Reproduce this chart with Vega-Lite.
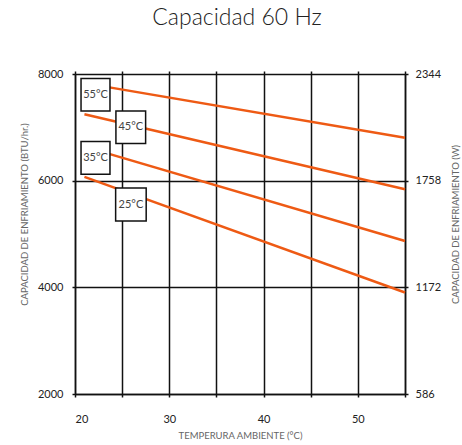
{
  "$schema": "https://vega.github.io/schema/vega-lite/v6.json",
  "width": 330,
  "height": 320,
  "autosize": "none",
  "padding": {"left": 75, "top": 74, "right": 57, "bottom": 51},
  "background": "white",
  "title": {"text": "Capacidad 60 Hz", "font": "Lato", "fontSize": 23, "fontWeight": 300, "color": "#222", "offset": 38, "anchor": "middle", "dx": -3},
  "config": {
    "view": {"stroke": null},
    "axis": {"domainColor": "#111", "domainWidth": 1.5, "gridColor": "#111", "gridWidth": 1.5, "gridOpacity": 1, "tickColor": "#111", "tickWidth": 1.5, "tickSize": 3, "labelFont": "Lato", "labelFontSize": 11, "labelColor": "#222", "titleFont": "Lato", "titleFontSize": 9.5, "titleFontWeight": "normal", "titleColor": "#666"}
  },
  "datasets": {
    "lines": [
      {"serie": "55°C", "temp": 21, "btu": 7829},
      {"serie": "55°C", "temp": 55, "btu": 6806},
      {"serie": "45°C", "temp": 21, "btu": 7244},
      {"serie": "45°C", "temp": 55, "btu": 5838},
      {"serie": "35°C", "temp": 21, "btu": 6638},
      {"serie": "35°C", "temp": 55, "btu": 4870},
      {"serie": "25°C", "temp": 21, "btu": 6070},
      {"serie": "25°C", "temp": 55, "btu": 3904}
    ],
    "boxes": [
      {"label": "55°C", "x1": 20.64, "x2": 23.71, "y1": 7304, "y2": 7916, "xc": 22.17, "yc": 7610},
      {"label": "45°C", "x1": 24.34, "x2": 27.49, "y1": 6699, "y2": 7304, "xc": 25.92, "yc": 7002},
      {"label": "35°C", "x1": 20.64, "x2": 23.71, "y1": 6119, "y2": 6736, "xc": 22.17, "yc": 6428},
      {"label": "25°C", "x1": 24.31, "x2": 27.55, "y1": 5244, "y2": 5862, "xc": 25.93, "yc": 5553}
    ]
  },
  "resolve": {"axis": {"x": "independent", "y": "independent"}},
  "layer": [
    {
      "data": {"name": "lines"},
      "mark": {"type": "line", "color": "#EE5A14", "strokeWidth": 2.5},
      "encoding": {
        "x": {"field": "temp", "type": "quantitative", "scale": {"domain": [20, 55], "nice": false, "zero": false},
          "axis": {"orient": "bottom", "values": [20, 25, 30, 35, 40, 45, 50, 55], "grid": true, "labelExpr": "datum.value % 10 == 0 ? datum.label : ''", "labelPadding": 16, "title": "TEMPERURA AMBIENTE (°C)", "titlePadding": 6}},
        "y": {"field": "btu", "type": "quantitative", "scale": {"domain": [2000, 8000], "nice": false, "zero": false},
          "axis": {"orient": "left", "values": [2000, 4000, 6000, 8000], "grid": true, "format": "d", "labelPadding": 9, "title": "CAPACIDAD DE ENFRIAMIENTO (BTU/hr.)", "titlePadding": 8, "titleY": 140}},
        "detail": {"field": "serie"}
      }
    },
    {
      "data": {"name": "boxes"},
      "mark": {"type": "rect", "fill": "white", "stroke": "#111", "strokeWidth": 1.5},
      "encoding": {
        "x": {"field": "x1", "type": "quantitative", "axis": null},
        "x2": {"field": "x2"},
        "y": {"field": "y1", "type": "quantitative", "axis": null},
        "y2": {"field": "y2"}
      }
    },
    {
      "data": {"name": "boxes"},
      "mark": {"type": "text", "font": "Lato", "fontSize": 11, "color": "#444"},
      "encoding": {
        "x": {"field": "xc", "type": "quantitative",
          "axis": {"orient": "top", "values": [20, 25, 30, 35, 40, 45, 50, 55], "grid": false, "labels": false, "domain": false, "title": null}},
        "y": {"field": "yc", "type": "quantitative",
          "axis": {"orient": "right", "values": [2000, 4000, 6000, 8000], "grid": false, "labelExpr": "format(datum.value * 0.293, 'd')", "labelPadding": 7, "title": "CAPACIDAD DE ENFRIAMIENTO (W)", "titleAngle": 270, "titleX": 50, "titleY": 150, "titleBaseline": "middle", "titleAlign": "center"}},
        "text": {"field": "label"}
      }
    }
  ]
}
